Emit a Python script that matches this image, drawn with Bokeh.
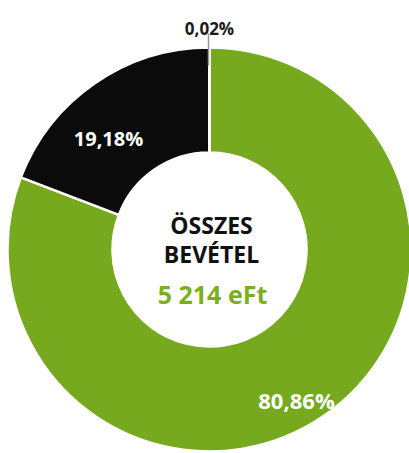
import math
from bokeh.plotting import figure
from bokeh.models import Range1d, ColumnDataSource
from bokeh.core.properties import value
from bokeh.embed import file_html
from bokeh.resources import INLINE

# ---- data ----
categories = ["Bevétel A", "Bevétel B", "Egyéb"]
shares = [80.86, 19.18, 0.02]
colors = ["#76A91E", "#0B0B0B", "#FFFFFF"]
total_label = "5 214 eFt"
center_lines = ["ÖSSZES", "BEVÉTEL"]

# ---- layout ----
W, H = 409, 453
def px(x):  # screenshot x -> data x
    return x
def py(y):  # screenshot y -> data y
    return H - y

cx, cy = px(209), py(249)
R_OUT, R_IN = 202, 97

p = figure(width=W, height=H, output_backend="svg", toolbar_location=None,
           x_range=Range1d(0, W), y_range=Range1d(0, H), min_border=0)
p.axis.visible = False
p.grid.visible = False
p.outline_line_color = None
p.background_fill_color = "white"
p.border_fill_color = "white"

tot = sum(shares)
starts, ends, cum = [], [], 0.0
for s in shares:
    c0, c1 = cum / tot, (cum + s) / tot
    starts.append(math.pi / 2 - 2 * math.pi * c1)
    ends.append(math.pi / 2 - 2 * math.pi * c0)
    cum += s

src = ColumnDataSource(dict(start=starts, end=ends, color=colors, cat=categories))
p.annular_wedge(x=cx, y=cy, inner_radius=R_IN, outer_radius=R_OUT,
                start_angle="start", end_angle="end", fill_color="color",
                line_color="white", line_width=2.5, source=src)

# leader line for the tiny slice
lx = cx - 1
p.segment(x0=[lx], y0=[py(65)], x1=[lx], y1=[py(33)], line_color="#9A9A9A", line_width=1.5)

def fmt(v):
    return f"{v:.2f}%".replace(".", ",")

font = value("Open Sans")
p.text(x=[px(209)], y=[py(28)], text=[fmt(shares[2])], text_font=font,
       text_font_size="17px", text_font_style="bold", text_color="#1A1A1A",
       text_align="center", text_baseline="alphabetic")
p.text(x=[px(108)], y=[py(138)], text=[fmt(shares[1])], text_font=font,
       text_font_size="20px", text_font_style="bold", text_color="white",
       text_align="center", text_baseline="alphabetic")
p.text(x=[px(296)], y=[py(399)], text=[fmt(shares[0])], text_font=font,
       text_font_size="22px", text_font_style="bold", text_color="white",
       text_align="center", text_baseline="alphabetic")

p.text(x=[px(211)] * 2, y=[py(224), py(253)], text=center_lines, text_font=font,
       text_font_size="23px", text_font_style="bold", text_color="#111111",
       text_align="center", text_baseline="alphabetic")
p.text(x=[px(212)], y=[py(293)], text=[total_label], text_font=font,
       text_font_size="25px", text_font_style="bold", text_color="#7AB020",
       text_align="center", text_baseline="alphabetic")

open("out.html", "w").write(file_html(p, INLINE))
